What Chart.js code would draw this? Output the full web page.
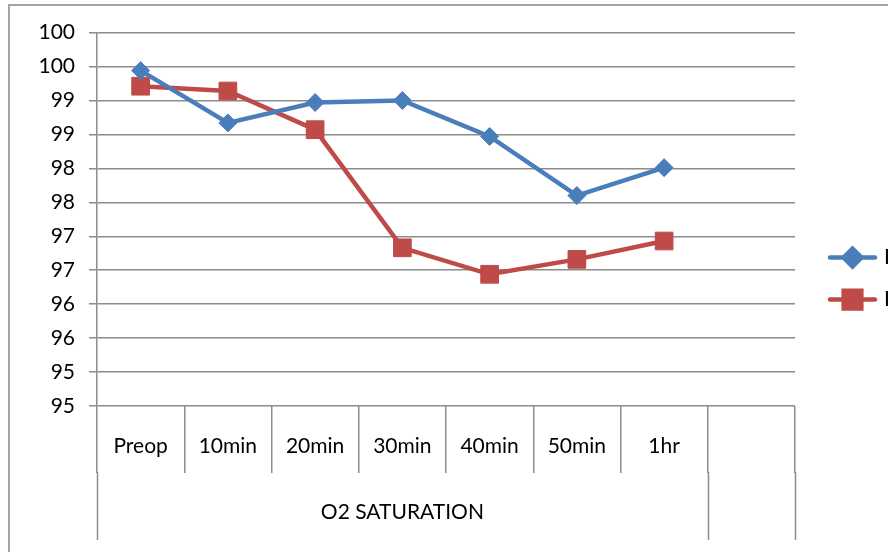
<!DOCTYPE html>
<html>
<head>
<meta charset="utf-8">
<script src="https://cdn.jsdelivr.net/npm/chart.js@4.4.1/dist/chart.umd.min.js"></script>
<style>
  html, body { margin: 0; padding: 0; background: #fff; overflow: hidden; width: 888px; height: 552px; }
  #frame {
    position: absolute; left: 8px; top: 4px;
    width: 1000px; height: 600px;
    border: 2px solid #a3a3a3;
    background: #fff;
  }
  #chart { display: block; }
</style>
</head>
<body>
<div id="frame"><canvas id="chart" width="1000" height="600"></canvas></div>
<script>
// Time points of the O2 saturation readings (last slot is an empty category)
const categories = ['Preop', '10min', '20min', '30min', '40min', '50min', '1hr', ''];
const groupLabel = 'O2 SATURATION';

// Mean SpO2 (%) for each group
const seriesNames = ['I', 'II'];
const seriesA = [99.44, 98.67, 98.97, 99.00, 98.47, 97.60, 98.01, null];
const seriesB = [99.21, 99.14, 98.57, 96.83, 96.44, 96.66, 96.93, null];

// Value axis settings
const yMin = 94.5;
const yMax = 100;
const yStep = 0.5;

const FONT = 'Lato, "Noto Sans", sans-serif';
const FONT_SIZE = 21;
const BLUE = '#4A7EBB';
const RED = '#BE4B48';
const GRID = '#8c8c8c';

// Draws the lower category dividers, the group caption and the legend
const decorations = {
  id: 'decorations',
  afterDraw(chart) {
    const ctx = chart.ctx;
    const x = chart.scales.x;
    const area = chart.chartArea;
    const half = (x.getPixelForValue(1) - x.getPixelForValue(0)) / 2;
    const groupLeft = x.getPixelForValue(0) - half;
    const groupRight = x.getPixelForValue(categories.length - 2) + half;
    const lastRight = x.getPixelForValue(categories.length - 1) + half;
    const tickBottom = area.bottom + x.options.grid.tickLength;
    const lineBottom = area.bottom + 134;

    ctx.save();
    ctx.strokeStyle = GRID;
    ctx.lineWidth = 1.5;
    [groupLeft, groupRight, lastRight].forEach(px => {
      ctx.beginPath();
      ctx.moveTo(Math.round(px) + 0.5, tickBottom - 1);
      ctx.lineTo(Math.round(px) + 0.5, lineBottom);
      ctx.stroke();
    });

    ctx.fillStyle = '#000';
    ctx.font = FONT_SIZE + 'px ' + FONT;
    ctx.textAlign = 'center';
    ctx.textBaseline = 'middle';
    ctx.fillText(groupLabel, (groupLeft + groupRight) / 2, area.bottom + 106);

    // Legend: line sample with marker, then series name
    const items = [
      { name: seriesNames[0], color: BLUE, style: 'rectRot', r: 9 },
      { name: seriesNames[1], color: RED, style: 'rect', r: 12.5 }
    ];
    const lx = area.right + 35;
    items.forEach((it, i) => {
      const ly = area.top + 225 + i * 42;
      ctx.strokeStyle = it.color;
      ctx.lineWidth = 4.5;
      ctx.lineCap = 'round';
      ctx.beginPath();
      ctx.moveTo(lx, ly);
      ctx.lineTo(lx + 45, ly);
      ctx.stroke();
      ctx.fillStyle = it.color;
      Chart.helpers.drawPoint(ctx, { pointStyle: it.style, radius: it.r, rotation: 0, borderWidth: 1 }, lx + 22.5, ly);
      ctx.fillStyle = '#000';
      ctx.textAlign = 'left';
      ctx.fillText(it.name, lx + 54, ly);
    });
    ctx.restore();
  }
};

new Chart(document.getElementById('chart'), {
  type: 'line',
  data: {
    labels: categories,
    datasets: [
      {
        label: seriesNames[0],
        data: seriesA,
        borderColor: BLUE,
        backgroundColor: BLUE,
        borderWidth: 4.5,
        pointStyle: 'rectRot',
        pointRadius: 9,
        pointBorderWidth: 1,
        pointBorderColor: BLUE,
        tension: 0
      },
      {
        label: seriesNames[1],
        data: seriesB,
        borderColor: RED,
        backgroundColor: RED,
        borderWidth: 4.5,
        pointStyle: 'rect',
        pointRadius: 12.5,
        pointBorderWidth: 1,
        pointBorderColor: RED,
        tension: 0
      }
    ]
  },
  options: {
    responsive: false,
    animation: false,
    events: [],
    layout: { padding: { left: 0, top: 26, right: 215, bottom: 0 } },
    plugins: {
      legend: { display: false },
      tooltip: { enabled: false }
    },
    scales: {
      x: {
        type: 'category',
        offset: true,
        afterFit(scale) { scale.height = 200; },
        border: { display: false },
        grid: {
          offset: true,
          drawOnChartArea: false,
          drawTicks: true,
          tickLength: 67,
          color: GRID,
          lineWidth: 1.5
        },
        ticks: {
          color: '#000',
          font: { family: FONT, size: FONT_SIZE },
          padding: -39.5,
          maxRotation: 0,
          autoSkip: false
        }
      },
      y: {
        min: yMin,
        max: yMax,
        afterFit(scale) { scale.width = 87; },
        border: { display: true, color: GRID, width: 1.5 },
        grid: {
          color: GRID,
          lineWidth: 1.5,
          tickLength: 8
        },
        ticks: {
          stepSize: yStep,
          color: '#000',
          font: { family: FONT, size: FONT_SIZE },
          padding: 14,
          callback: v => Math.round(v)
        }
      }
    }
  },
  plugins: [decorations]
});
</script>
</body>
</html>
